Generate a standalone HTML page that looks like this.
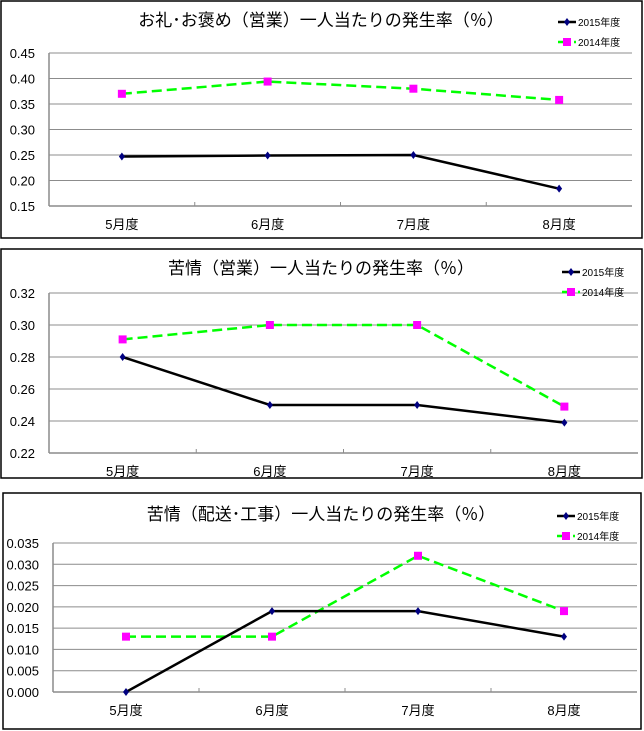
<!DOCTYPE html>
<html><head><meta charset="utf-8"><style>
html,body{margin:0;padding:0;background:#fff;width:644px;height:731px;overflow:hidden}
svg{position:absolute;left:0;top:0}
text{font-family:"Liberation Sans","Noto Sans CJK JP",sans-serif;fill:#000}
</style></head><body>
<svg id="root" width="644" height="731" xmlns="http://www.w3.org/2000/svg"></svg>
<script>
const categories = ["5月度","6月度","7月度","8月度"];
const c1Titles = "お礼･お褒め（営業）一人当たりの発生率（％）";
const c1s2015 = [0.247,0.249,0.250,0.184];
const c1s2014 = [0.370,0.394,0.380,0.358];
const c1Ticks = ["0.15","0.20","0.25","0.30","0.35","0.40","0.45"];
const c2Title = "苦情（営業）一人当たりの発生率（％）";
const c2s2015 = [0.280,0.250,0.250,0.239];
const c2s2014 = [0.291,0.300,0.300,0.249];
const c2Ticks = ["0.22","0.24","0.26","0.28","0.30","0.32"];
const c3Title = "苦情（配送･工事）一人当たりの発生率（％）";
const c3s2015 = [0.000,0.019,0.019,0.013];
const c3s2014 = [0.013,0.013,0.032,0.019];
const c3Ticks = ["0.000","0.005","0.010","0.015","0.020","0.025","0.030","0.035"];
const legendNames = ["2015年度","2014年度"];

const NS="http://www.w3.org/2000/svg";
const root=document.getElementById('root');
function mk(tag,attrs,parent){const e=document.createElementNS(NS,tag);for(const k in attrs)e.setAttribute(k,attrs[k]);(parent||root).appendChild(e);return e;}

function chart(cfg){
  const g=mk('g',{});
  
  
  const box=mk('rect',{x:cfg.bx,y:cfg.by,width:cfg.bw,height:cfg.bh,fill:'#fff',stroke:'#000','stroke-width':1.5},g);
  
  
  const t=mk('text',{x:321,y:cfg.ty,'text-anchor':'middle','font-size':17},g);
  t.textContent=cfg.title;
  
  
  const tv=cfg.ticks.map(Number);
  const ymin=tv[0],ymax=tv[tv.length-1];
  const y=v=>cfg.pb-(v-ymin)/(ymax-ymin)*(cfg.pb-cfg.pt);
  const cw=(cfg.pr-cfg.pl)/categories.length;
  const x=i=>cfg.pl+cw*(i+0.5);
  cfg.ticks.forEach((lab,i)=>{
    const yy=y(tv[i]);
    if(i>0){const gl=mk('line',{x1:cfg.pl,x2:cfg.pr,y1:yy,y2:yy,stroke:'#8c8c8c','stroke-width':1},g);
      
      }
    const tl=mk('text',{x:cfg.pl-14,y:yy+5,'text-anchor':'end','font-size':13},g);
    tl.textContent=lab;
    
    
  });
  const ya=mk('line',{x1:cfg.pl,x2:cfg.pl,y1:cfg.pt,y2:cfg.pb,stroke:'#8c8c8c','stroke-width':1.5},g);
  
  
  const xa=mk('line',{x1:cfg.pl,x2:cfg.pr,y1:cfg.pb,y2:cfg.pb,stroke:'#8c8c8c','stroke-width':1.5},g);
  
  
  for(let i=1;i<categories.length;i++){
    const tk=mk('line',{x1:cfg.pl+cw*i,x2:cfg.pl+cw*i,y1:cfg.pb,y2:cfg.pb-4,stroke:'#8c8c8c','stroke-width':1},g);
    
    
  }
  categories.forEach((c,i)=>{
    const cl=mk('text',{x:x(i),y:cfg.pb+23,'text-anchor':'middle','font-size':13},g);
    cl.textContent=c;
    
    
  });
  const p14=mk('polyline',{points:cfg.s14.map((v,i)=>x(i)+','+y(v)).join(' '),fill:'none',stroke:'#00ff00','stroke-width':2.5,'stroke-dasharray':'10,5'},g);
  
  
  cfg.s14.forEach((v,i)=>{
    const m=mk('rect',{x:x(i)-4,y:y(v)-4,width:8,height:8,fill:'#ff00ff'},g);
    
    
  });
  const p15=mk('polyline',{points:cfg.s15.map((v,i)=>x(i)+','+y(v)).join(' '),fill:'none',stroke:'#000','stroke-width':2.5},g);
  
  
  cfg.s15.forEach((v,i)=>{
    const xx=x(i),yy=y(v);
    const m=mk('polygon',{points:`${xx},${yy-4} ${xx+3},${yy} ${xx},${yy+4} ${xx-3},${yy}`,fill:'#000080'},g);
    
    
  });
  const lx=cfg.lx;
  const l1=mk('line',{x1:lx,x2:lx+18,y1:cfg.ly,y2:cfg.ly,stroke:'#000','stroke-width':2.5},g);
  
  
  const lm1=mk('polygon',{points:`${lx+9},${cfg.ly-4} ${lx+12},${cfg.ly} ${lx+9},${cfg.ly+4} ${lx+6},${cfg.ly}`,fill:'#000080'},g);
  
  
  const lt1=mk('text',{x:lx+20,y:cfg.ly+4,'font-size':10},g);
  lt1.textContent=legendNames[0];
  
  
  const ly2=cfg.ly+20;
  const l2=mk('line',{x1:lx,x2:lx+18,y1:ly2,y2:ly2,stroke:'#00ff00','stroke-width':2.5,'stroke-dasharray':'5,3'},g);
  
  
  const lm2=mk('rect',{x:lx+5,y:ly2-4,width:8,height:8,fill:'#ff00ff'},g);
  
  
  const lt2=mk('text',{x:lx+20,y:ly2+4,'font-size':10},g);
  lt2.textContent=legendNames[1];
  
  
}
chart({name:'thanks-rate-chart',bx:1,by:1,bw:641,bh:237,title:c1Titles,ty:26,pl:49,pr:632,pt:53,pb:206,ticks:c1Ticks,s15:c1s2015,s14:c1s2014,lx:558,ly:22});
chart({name:'complaint-sales-chart',bx:1,by:249,bw:641,bh:229,title:c2Title,ty:274,pl:49,pr:638,pt:293,pb:453,ticks:c2Ticks,s15:c2s2015,s14:c2s2014,lx:562,ly:272});
chart({name:'complaint-delivery-chart',bx:3,by:493,bw:638,bh:236,title:c3Title,ty:520,pl:53,pr:637,pt:543,pb:692,ticks:c3Ticks,s15:c3s2015,s14:c3s2014,lx:557,ly:516});
</script>
</body></html>
